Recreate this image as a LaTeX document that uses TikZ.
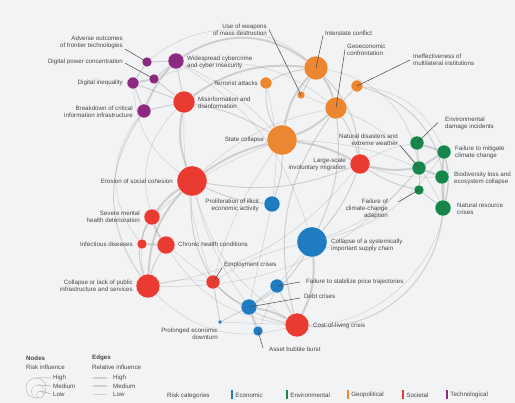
\documentclass[tikz,border=0pt]{standalone}
\usepackage{fontspec}
\setmainfont{Liberation Sans}
\usetikzlibrary{positioning, calc}

\definecolor{bgc}{HTML}{F2F3F5}
\definecolor{econc}{HTML}{1F7CC1}
\definecolor{envc}{HTML}{17864A}
\definecolor{geoc}{HTML}{EC8731}
\definecolor{socc}{HTML}{EA3B33}
\definecolor{techc}{HTML}{8C2A82}
\definecolor{txt}{HTML}{474747}
\definecolor{edgec}{HTML}{8E8E8E}

\newcommand{\lblfont}{\fontsize{6.2}{7}\selectfont}

\pgfdeclarelayer{back}
\pgfdeclarelayer{links}
\pgfsetlayers{back,links,main}

\begin{document}
\begin{tikzpicture}[
    x=1pt, y=-1pt,
    risk/.style={circle, inner sep=0pt, draw=white, line width=0.3pt},
    econ/.style={risk, fill=econc},
    envi/.style={risk, fill=envc},
    geo/.style={risk, fill=geoc},
    soc/.style={risk, fill=socc},
    tech/.style={risk, fill=techc},
    lblL/.style={anchor=west, align=left, inner sep=0pt, font=\lblfont, text=txt},
    lblR/.style={anchor=east, align=right, inner sep=0pt, font=\lblfont, text=txt},
    lead/.style={draw=txt, line width=0.5pt},
    ehi/.style={draw=edgec, line width=2pt, opacity=0.35},
    emd/.style={draw=edgec, line width=1pt, opacity=0.35},
    elo/.style={draw=edgec, line width=0.5pt, opacity=0.35},
    legc/.style={circle, inner sep=0pt, draw=gray!55, line width=0.4pt, fill=gray!8},
    catbar/.style={rectangle, inner sep=0pt, minimum width=2pt, minimum height=9pt}
]

\useasboundingbox (0,0) rectangle (515,403);
\begin{pgfonlayer}{back}
  \fill[bgc] (0,0) rectangle (515,403);
\end{pgfonlayer}

%% Technological
\node[tech, minimum size=10] (adverse)   at (147,62)  {};
\node[tech, minimum size=10] (dpower)    at (154,79)  {};
\node[tech, minimum size=12] (digineq)   at (133,83)  {};
\node[tech, minimum size=16] (cyber)     at (176,61)  {};
\node[tech, minimum size=14] (breakdown) at (144,111) {};

%% Geopolitical
\node[geo, minimum size=8]  (weapons)    at (301,95)  {};
\node[geo, minimum size=24] (interstate) at (316,68)  {};
\node[geo, minimum size=22] (geoeco)     at (336,108) {};
\node[geo, minimum size=12] (ineff)      at (357,86)  {};
\node[geo, minimum size=12] (terrorist)  at (266,83)  {};
\node[geo, minimum size=30] (state)      at (282,140) {};

%% Environmental
\node[envi, minimum size=14] (envdmg)    at (417,143) {};
\node[envi, minimum size=14] (mitigate)  at (444,152) {};
\node[envi, minimum size=14] (natdis)    at (419,168) {};
\node[envi, minimum size=14] (biodiv)    at (442,177) {};
\node[envi, minimum size=10] (failadapt) at (419,190) {};
\node[envi, minimum size=16] (natres)    at (443,208) {};

%% Societal
\node[soc, minimum size=22] (misinfo)    at (184,102) {};
\node[soc, minimum size=30] (erosion)    at (192,181) {};
\node[soc, minimum size=16] (severe)     at (152,217) {};
\node[soc, minimum size=10] (infectious) at (142,244) {};
\node[soc, minimum size=18] (chronic)    at (166,245) {};
\node[soc, minimum size=24] (collinfra)  at (148,286) {};
\node[soc, minimum size=14] (employment) at (213,282) {};
\node[soc, minimum size=20] (largescale) at (360,164) {};
\node[soc, minimum size=24] (costliving) at (297,325) {};

%% Economic
\node[econ, minimum size=16] (prolif)    at (272,204) {};
\node[econ, minimum size=30] (supply)    at (312,242) {};
\node[econ, minimum size=14] (price)     at (277,286) {};
\node[econ, minimum size=16] (debt)      at (249,307) {};
\node[econ, minimum size=10] (asset)     at (258,331) {};
\node[econ, minimum size=4]  (prolonged) at (220,322) {};

%% ── Edges ────────────────────────────────────────────────────────
\begin{pgfonlayer}{links}
\draw[ehi] (misinfo) to[bend right=15] (erosion);
\draw[ehi] (erosion) to[bend left=10] (state);
\draw[ehi] (erosion) to[bend right=10] (severe);
\draw[ehi] (severe) to[bend right=10] (chronic);
\draw[ehi] (infectious) -- (chronic);
\draw[ehi] (state) to[bend left=15] (interstate);
\draw[ehi] (interstate) to[bend left=10] (geoeco);
\draw[ehi] (geoeco) to[bend left=10] (state);
\draw[ehi] (cyber) to[bend left=35] (interstate);
\draw[ehi] (natdis) -- (mitigate);
\draw[ehi] (mitigate) -- (biodiv);
\draw[ehi] (natdis) -- (biodiv);
\draw[ehi] (biodiv) -- (natres);
\draw[ehi] (envdmg) -- (mitigate);
\draw[ehi] (costliving) to[bend right=10] (debt);
\draw[ehi] (debt) -- (asset);
\draw[ehi] (supply) to[bend left=15] (costliving);
\draw[ehi] (largescale) to[bend right=10] (natdis);
\draw[ehi] (largescale) to[bend right=10] (state);
\draw[ehi] (erosion) to[bend right=20] (collinfra);
\draw[ehi] (cyber) to[bend right=10] (breakdown);
\draw[ehi] (digineq) -- (dpower);
\draw[ehi] (misinfo) to[bend left=20] (interstate);

\draw[emd] (misinfo) -- (cyber);
\draw[emd] (misinfo) to[bend left=10] (state);
\draw[emd] (terrorist) to[bend left=10] (interstate);
\draw[emd] (terrorist) to[bend right=15] (state);
\draw[emd] (weapons) -- (interstate);
\draw[emd] (ineff) -- (geoeco);
\draw[emd] (ineff) to[bend left=40] (natres);
\draw[emd] (geoeco) to[bend left=15] (supply);
\draw[emd] (geoeco) to[bend right=25] (costliving);
\draw[emd] (state) to[bend left=10] (prolif);
\draw[emd] (prolif) to[bend left=10] (erosion);
\draw[emd] (erosion) to[bend right=15] (largescale);
\draw[emd] (erosion) to[bend right=15] (employment);
\draw[emd] (chronic) to[bend right=10] (collinfra);
\draw[emd] (severe) to[bend right=25] (collinfra);
\draw[emd] (employment) to[bend right=10] (debt);
\draw[emd] (employment) to[bend right=15] (costliving);
\draw[emd] (price) -- (costliving);
\draw[emd] (price) -- (debt);
\draw[emd] (debt) to[bend right=15] (supply);
\draw[emd] (prolonged) -- (employment);
\draw[emd] (prolonged) -- (debt);
\draw[emd] (natres) to[bend left=45] (costliving);
\draw[emd] (failadapt) -- (natdis);
\draw[emd] (failadapt) -- (natres);
\draw[emd] (failadapt) to[bend left=10] (largescale);
\draw[emd] (envdmg) -- (natdis);
\draw[emd] (mitigate) to[bend left=15] (natres);
\draw[emd] (largescale) to[bend right=10] (geoeco);
\draw[emd] (largescale) to[bend left=10] (supply);
\draw[emd] (interstate) to[bend left=20] (largescale);
\draw[emd] (breakdown) to[bend right=35] (collinfra);
\draw[emd] (adverse) -- (cyber);
\draw[emd] (adverse) -- (digineq);
\draw[emd] (dpower) -- (cyber);
\draw[emd] (dpower) -- (misinfo);
\draw[emd] (digineq) -- (breakdown);
\draw[emd] (digineq) -- (misinfo);
\draw[emd] (breakdown) -- (misinfo);
\draw[emd] (severe) to[bend right=15] (infectious);

\draw[elo] (adverse) to[bend left=40] (interstate);
\draw[elo] (dpower) to[bend left=30] (geoeco);
\draw[elo] (digineq) to[bend right=25] (erosion);
\draw[elo] (breakdown) to[bend right=40] (infectious);
\draw[elo] (cyber) to[bend left=10] (state);
\draw[elo] (cyber) to[bend left=20] (supply);
\draw[elo] (misinfo) to[bend right=30] (severe);
\draw[elo] (misinfo) to[bend right=10] (employment);
\draw[elo] (terrorist) to[bend left=10] (prolif);
\draw[elo] (weapons) -- (geoeco);
\draw[elo] (ineff) to[bend left=30] (mitigate);
\draw[elo] (interstate) to[bend left=35] (natdis);
\draw[elo] (geoeco) to[bend left=20] (natres);
\draw[elo] (state) to[bend left=10] (natdis);
\draw[elo] (state) to[bend right=10] (employment);
\draw[elo] (erosion) to[bend right=20] (costliving);
\draw[elo] (erosion) to[bend right=10] (debt);
\draw[elo] (collinfra) to[bend left=10] (employment);
\draw[elo] (collinfra) to[bend right=30] (costliving);
\draw[elo] (chronic) -- (employment);
\draw[elo] (infectious) to[bend right=10] (collinfra);
\draw[elo] (supply) -- (price);
\draw[elo] (supply) to[bend right=10] (employment);
\draw[elo] (supply) to[bend right=20] (mitigate);
\draw[elo] (mitigate) to[bend left=50] (costliving);
\draw[elo] (largescale) to[bend left=20] (collinfra);
\draw[elo] (natdis) to[bend left=15] (supply);
\draw[elo] (natdis) to[bend left=25] (collinfra);
\draw[elo] (envdmg) to[bend right=10] (largescale);
\draw[elo] (biodiv) to[bend left=10] (largescale);
\draw[elo] (prolonged) -- (costliving);
\draw[elo] (asset) -- (price);
\draw[elo] (chronic) to[bend right=25] (costliving);
\draw[elo] (erosion) to[bend left=15] (geoeco);
\draw[elo] (prolif) -- (debt);
\draw[elo] (severe) to[bend left=10] (state);
\end{pgfonlayer}

%% ── Labels ───────────────────────────────────────────────────────
\node[lblR] (ladverse)    at (123,42.5) {Adverse outcomes\\of frontier technologies};
\node[lblR] (ldpower)     at (123,62)   {Digital power concentration};
\node[lblR] (ldigineq)    at (123,83)   {Digital inequality};
\node[lblL] (lcyber)      at (187,62)   {Widespread cybercrime\\and cyber insecurity};
\node[lblR] (lbreakdown)  at (133,112)  {Breakdown of critical\\information infrastructure};
\node[lblL] (lmisinfo)    at (198,102.5){Misinformation and\\disinformation};
\node[lblR] (lweapons)    at (267,29.5) {Use of weapons\\of mass destruction};
\node[lblL] (linterstate) at (325,33)   {Interstate conflict};
\node[lblL] (lgeoeco)     at (347,49.5) {Geoeconomic\\confrontation};
\node[lblL] (lineff)      at (413,60)   {Ineffectiveness of\\multilateral institutions};
\node[lblR] (lterrorist)  at (258,83)   {Terrorist attacks};
\node[lblR] (lstate)      at (264,139.5){State collapse};
\node[lblL] (lenvdmg)     at (445,123.5){Environmental\\damage incidents};
\node[lblL] (lmitigate)   at (455,152.5){Failure to mitigate\\climate change};
\node[lblR] (lnatdis)     at (398,139.5){Natural disasters and\\extreme weather};
\node[lblL] (lbiodiv)     at (454,178.5){Biodiversity loss and\\ecosystem collapse};
\node[lblR] (lfailadapt)  at (388,209)  {Failure of\\climate-change\\adaption};
\node[lblL] (lnatres)     at (457,208.5){Natural resource\\crises};
\node[lblR] (llargescale) at (346,164.5){Large-scale\\involuntary migration};
\node[lblR] (lprolif)     at (259,205)  {Proliferation of illicit\\economic activity};
\node[lblL] (lsupply)     at (331,245)  {Collapse of a systemically\\important supply chain};
\node[lblR] (lerosion)    at (173,181.5){Erosion of social cohesion};
\node[lblR] (lsevere)     at (140,217)  {Severe mental\\health deterioration};
\node[lblR] (linfectious) at (133,244)  {Infectious diseases};
\node[lblL] (lchronic)    at (178,244.5){Chronic health conditions};
\node[lblR] (lcollinfra)  at (133,286)  {Collapse or lack of public\\infrastructure and services};
\node[lblL] (lemployment) at (224,265)  {Employment crises};
\node[lblL] (lprice)      at (306,282)  {Failure to stabilize price trajectories};
\node[lblL] (ldebt)       at (304,296)  {Debt crises};
\node[lblL] (lcostliving) at (313,326)  {Cost-of-living crisis};
\node[lblL] (lasset)      at (269,349)  {Asset bubble burst};
\node[lblR] (lprolonged)  at (218,334)  {Prolonged economic\\downturn};

%% leader lines
\draw[lead] ([xshift=2pt]ladverse.south east) -- (adverse.center);
\draw[lead] ([xshift=2pt,yshift=-1pt]ldpower.east) -- (dpower.center);
\draw[lead] ([xshift=2pt]lweapons.east) -- (weapons.center);
\draw[lead] ([xshift=-2pt]linterstate.south west) -- (interstate.center);
\draw[lead] ([xshift=-2pt]lgeoeco.west) -- (geoeco.center);
\draw[lead] ([xshift=-3pt]lineff.west) -- (ineff.center);
\draw[lead] ([xshift=-7pt,yshift=1pt]lenvdmg.west) -- (envdmg.center);
\draw[lead] ([xshift=2pt]lnatdis.south east) -- (natdis.center);
\draw[lead] ([xshift=10pt,yshift=-3pt]lfailadapt.north east) -- (failadapt.center);
\draw[lead] ([xshift=-2pt,yshift=-3pt]lemployment.west) -- (employment.center);
\draw[lead] ([xshift=-6pt]lprice.west) -- (price.center);
\draw[lead] ([xshift=-4pt,yshift=-2pt]ldebt.west) -- (debt.center);
\draw[lead] ([xshift=-6pt,yshift=1pt]lasset.west) -- (asset.center);

%% ── Legend ───────────────────────────────────────────────────────
\node[lblL, font=\lblfont\bfseries] (lnodes) at (26,358) {Nodes};
\node[lblL] (lrisk) at (26,367) {Risk influence};
\node[legc, minimum size=20] (lgbig) at (36,388)   {};
\node[legc, minimum size=13] (lgmid) at (38,391.5) {};
\node[legc, minimum size=7]  (lgsml) at (40,394.5) {};
\node[lblL] (lnhigh) at (53,378) {High};
\node[lblL] (lnmed)  at (53,386) {Medium};
\node[lblL] (lnlow)  at (53,394) {Low};
\draw[lead, draw=gray!70] (lgbig.north) -- ([xshift=-2pt]lnhigh.west);
\draw[lead, draw=gray!70] (lgmid.north) -- ([xshift=-2pt]lnmed.west);
\draw[lead, draw=gray!70] (lgsml.north) -- ([xshift=-2pt]lnlow.west);

\node[lblL, font=\lblfont\bfseries] (ledges) at (92,358) {Edges};
\node[lblL] (lrel) at (92,367) {Relative influence};
\node[lblL] (lehigh) at (113,378) {High};
\node[lblL] (lemed)  at (113,386) {Medium};
\node[lblL] (lelow)  at (113,394) {Low};
\coordinate (eh) at (93,378);
\coordinate (em) at (93,386);
\coordinate (el) at (93,394);
\draw[ehi, line width=2.5pt] (eh) -- ([xshift=-6pt]lehigh.west);
\draw[emd, line width=1.2pt] (em) -- ([xshift=-6pt]lemed.west);
\draw[elo] (el) -- ([xshift=-6pt]lelow.west);

\node[lblL] (lcats) at (167,396) {Risk categories};
\node[catbar, fill=econc] (beco) at (232,395) {};
\node[lblL, right=2pt of beco] (leco) {Economic};
\node[catbar, fill=envc] (benv) at (287,395) {};
\node[lblL, right=2pt of benv] (lenv) {Environmental};
\node[catbar, fill=geoc] (bgeo) at (348,395) {};
\node[lblL, right=2pt of bgeo] (lgeo) {Geopolitical};
\node[catbar, fill=socc] (bsoc) at (403,395) {};
\node[lblL, right=2pt of bsoc] (lsoc) {Societal};
\node[catbar, fill=techc] (btec) at (447,395) {};
\node[lblL, right=2pt of btec] (ltec) {Technological};

\end{tikzpicture}
\end{document}
